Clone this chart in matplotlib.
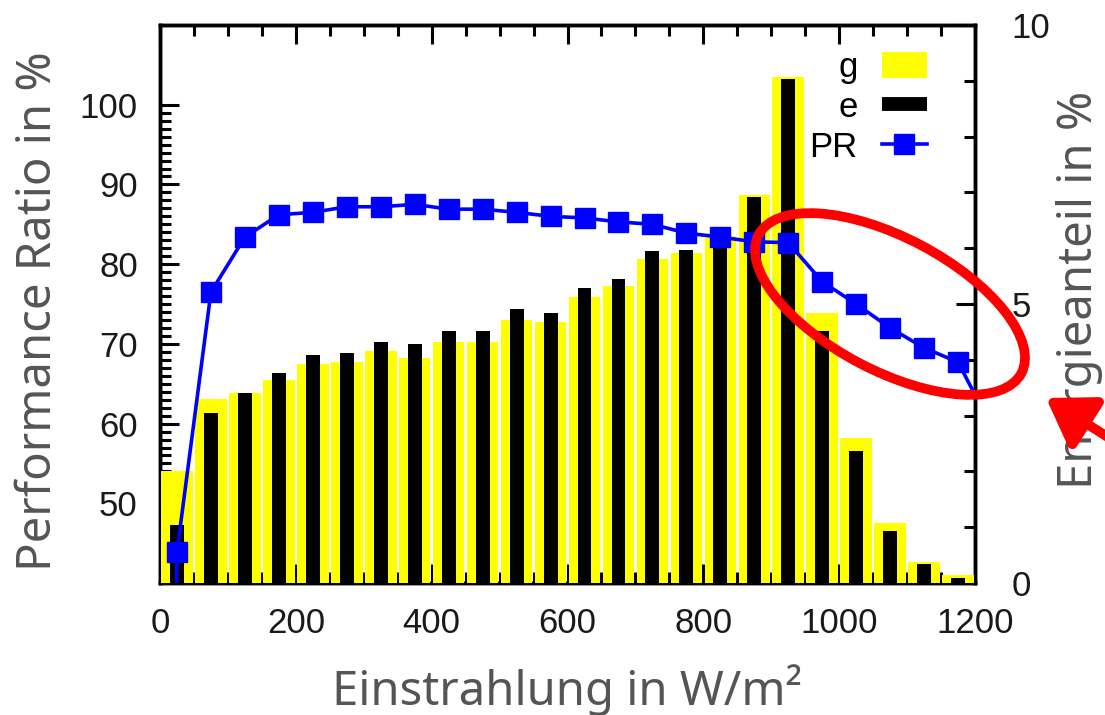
import numpy as np
import matplotlib.pyplot as plt
from matplotlib.patches import Ellipse, Patch
from matplotlib.lines import Line2D
from matplotlib.ticker import FixedLocator, MultipleLocator

plt.rcParams['font.family'] = ['Liberation Sans', 'DejaVu Sans']
plt.rcParams['axes.linewidth'] = 2.5

# Einstrahlungsklassen, 50 W/m2 breit (Klassenmitte)
bin_mid = [25, 75, 125, 175, 225, 275, 325, 375, 425, 475, 525, 575,
           625, 675, 725, 775, 825, 875, 925, 975, 1025, 1075, 1125, 1175]
# Energieanteil in % (rechte Achse)
anteil_g = [2.00, 3.30, 3.40, 3.64, 3.92, 3.96, 4.16, 4.03, 4.32, 4.32, 4.71, 4.68,
            5.13, 5.32, 5.81, 5.92, 6.22, 6.95, 9.07, 4.84, 2.60, 1.08, 0.38, 0.14]
anteil_e = [1.04, 3.05, 3.40, 3.77, 4.09, 4.12, 4.32, 4.28, 4.52, 4.52, 4.91, 4.84,
            5.29, 5.45, 5.95, 5.96, 6.30, 6.92, 9.03, 4.52, 2.37, 0.93, 0.34, 0.09]
# Performance Ratio in % (linke Achse), inkl. Punkte ausserhalb des Bildes
pr_x = [20] + bin_mid + [1225]
pr = [0.0, 43.9, 76.5, 83.4, 86.2, 86.5, 87.2, 87.2, 87.5, 86.9, 86.9, 86.5, 86.0,
      85.8, 85.3, 85.0, 83.9, 83.4, 82.8, 82.7, 77.8, 75.0, 72.0, 69.5, 67.7, 59.5]

label_font = ['Noto Sans', 'DejaVu Sans']
label_color = '#555555'
tick_color = '#1a1a1a'

fig = plt.figure(figsize=(11.05, 7.15), dpi=100)
ax = fig.add_axes([0.1448, 0.1846, 0.7376, 0.7804])
ax2 = ax.twinx()   # Balken, rechte Achse
ax3 = ax.twinx()   # PR-Linie obenauf

ax.set_xlim(0, 1200)
ax.set_ylim(40, 110)
ax2.set_ylim(0, 10)
ax3.set_ylim(40, 110)

ax2.bar(bin_mid, anteil_g, width=46.5, color='#ffff00', zorder=3)
ax2.bar(bin_mid, anteil_e, width=20.5, color='black', zorder=4)
ax3.plot(pr_x, pr, color='#0000ff', lw=2.6, marker='s', ms=14)
ax3.axis('off')

# x-Achse
ax.xaxis.set_major_locator(MultipleLocator(200))
ax.xaxis.set_minor_locator(MultipleLocator(50))
ax.tick_params(axis='x', which='both', direction='in', top=True, bottom=True,
               width=2.2, labelsize=25, labelcolor=tick_color, pad=17)
ax.tick_params(axis='x', which='major', length=14)
ax.tick_params(axis='x', which='minor', length=8)

# linke Achse
ax.yaxis.set_major_locator(FixedLocator([50, 60, 70, 80, 90, 100]))
ax.yaxis.set_minor_locator(FixedLocator(list(range(41, 100))))
ax.tick_params(axis='y', which='both', direction='in', width=2.2,
               labelsize=25, labelcolor=tick_color, pad=16)
ax.tick_params(axis='y', which='major', length=14)
ax.tick_params(axis='y', which='minor', length=8)

# rechte Achse
ax2.yaxis.set_major_locator(FixedLocator([0, 5, 10]))
ax2.yaxis.set_minor_locator(MultipleLocator(1))
ax2.tick_params(axis='y', which='both', direction='in', width=2.2,
                labelsize=25, labelcolor=tick_color, pad=26)
ax2.tick_params(axis='y', which='major', length=14)
ax2.tick_params(axis='y', which='minor', length=8)

ax.set_xlabel('Einstrahlung in W/m²', fontsize=34, color=label_color, family=label_font)
ax.set_ylabel('Performance Ratio in %', fontsize=34, color=label_color, family=label_font)
ax2.set_ylabel('Energieanteil in %', fontsize=34, color=label_color, family=label_font)
ax.xaxis.set_label_coords(0.5, -0.145)
ax.yaxis.set_label_coords(-0.12, 0.487)
ax2.yaxis.set_label_coords(1.099, 0.525)

handles = [Patch(facecolor='#ffff00', edgecolor='none'),
           Line2D([], [], color='black', lw=10, solid_capstyle='butt'),
           Line2D([], [], color='#0000ff', lw=2.6, marker='s', ms=14)]
ax3.legend(handles, ['g', 'e', 'PR'], loc='upper right', markerfirst=False,
           frameon=False, fontsize=25, handlelength=1.3, handleheight=0.8,
           handletextpad=0.7, labelspacing=0.2, borderpad=0, borderaxespad=0,
           bbox_to_anchor=(9.27, 6.64), bbox_transform=fig.dpi_scale_trans)

# rote Markierung
ell = Ellipse((8.90, 4.11), 2.97, 1.33, angle=-27.8, fill=False, edgecolor='#ff0000',
              lw=7, transform=fig.dpi_scale_trans, clip_on=False)
fig.add_artist(ell)
ax3.annotate('', xy=(10.46, 3.17), xytext=(11.60, 2.45),
             xycoords=fig.dpi_scale_trans, textcoords=fig.dpi_scale_trans,
             annotation_clip=False,
             arrowprops=dict(arrowstyle='-|>,head_length=0.55,head_width=0.36',
                             color='#ff0000', lw=7, mutation_scale=50,
                             shrinkA=0, shrinkB=0))

fig.savefig('out.png', dpi=100)
